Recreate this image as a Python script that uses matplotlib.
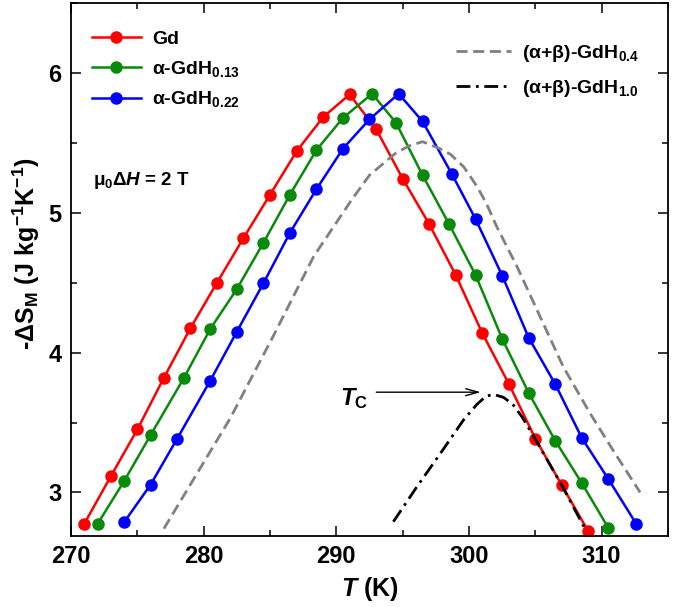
import matplotlib
matplotlib.use("Agg")
import matplotlib.pyplot as plt

plt.rcParams['font.family'] = ['Liberation Sans', 'DejaVu Sans']
plt.rcParams['font.weight'] = 'bold'
plt.rcParams['mathtext.fontset'] = 'custom'
plt.rcParams['mathtext.rm'] = 'Liberation Sans'
plt.rcParams['mathtext.bf'] = 'Liberation Sans:bold'
plt.rcParams['mathtext.it'] = 'Liberation Sans:italic:bold'

# ---- data ----
T_gd = [271, 273, 275, 277, 279, 281, 283, 285, 287, 289, 291, 293, 295, 297, 299, 301, 303, 305, 307, 309]
S_gd = [2.775, 3.115, 3.45, 3.82, 4.175, 4.50, 4.82, 5.13, 5.44, 5.685, 5.848, 5.60, 5.245, 4.92, 4.555,
        4.14, 3.777, 3.385, 3.05, 2.72]

T_h013 = [272, 274, 276, 278.5, 280.5, 282.5, 284.5, 286.5, 288.5, 290.5, 292.7, 294.5, 296.5, 298.5, 300.5,
          302.5, 304.5, 306.5, 308.5, 310.5]
S_h013 = [2.774, 3.08, 3.41, 3.817, 4.17, 4.455, 4.786, 5.13, 5.45, 5.68, 5.853, 5.645, 5.27, 4.92, 4.555,
          4.10, 3.712, 3.37, 3.067, 2.746]

T_h022 = [274, 276, 278, 280.5, 282.5, 284.5, 286.5, 288.5, 290.5, 292.5, 294.7, 296.5, 298.7, 300.5, 302.5,
          304.5, 306.5, 308.5, 310.5, 312.6]
S_h022 = [2.786, 3.055, 3.384, 3.80, 4.15, 4.496, 4.857, 5.17, 5.46, 5.67, 5.853, 5.655, 5.28, 4.955, 4.552,
          4.107, 3.775, 3.39, 3.096, 2.776]

T_h04 = [277.0, 282.0, 285.2, 288.3, 291.2, 292.5, 293.5, 294.5, 295.5, 296.5, 297.8, 298.6, 299.6, 300.6,
         301.3, 302.1, 303.6, 305.3, 307.1, 309.1, 311.0, 312.9]
S_h04 = [2.74, 3.53, 4.11, 4.69, 5.10, 5.27, 5.35, 5.43, 5.48, 5.51, 5.46, 5.42, 5.33, 5.19,
         5.07, 4.90, 4.62, 4.27, 3.90, 3.57, 3.28, 3.00]

T_h10 = [294.3, 296.0, 298.0, 299.6, 300.6, 301.3, 301.9, 302.6, 303.3, 304.0, 305.0, 307.0, 308.8]
S_h10 = [2.79, 3.03, 3.30, 3.52, 3.63, 3.69, 3.70, 3.68, 3.63, 3.54, 3.38, 3.05, 2.73]

x_ticks = [270, 280, 290, 300, 310]
y_ticks = [3, 4, 5, 6]

labels = ['Gd', r'$\mathrm{\alpha}$-Gd$\mathbf{H_{0.13}}$', r'$\mathrm{\alpha}$-Gd$\mathbf{H_{0.22}}$']
labels2 = [r'$\mathrm{(\alpha{+}\beta)}$-Gd$\mathbf{H_{0.4}}$', r'$\mathrm{(\alpha{+}\beta)}$-Gd$\mathbf{H_{1.0}}$']

# ---- figure ----
fig = plt.figure(figsize=(6.75, 6.07), dpi=100)
ax = fig.add_axes([0.1052, 0.1175, 0.8844, 0.877])

red, green, blue = '#ff0000', '#0a8a0a', '#0000ff'
lw = 1.8
ms = 8
l1, = ax.plot(T_gd, S_gd, '-o', color=red, lw=lw, ms=ms, label=labels[0])
l2, = ax.plot(T_h013, S_h013, '-o', color=green, lw=lw, ms=ms, label=labels[1])
l3, = ax.plot(T_h022, S_h022, '-o', color=blue, lw=lw, ms=ms, label=labels[2])
l4, = ax.plot(T_h04, S_h04, color='#808080', lw=2.0, dashes=(4, 2), label=labels2[0])
l5, = ax.plot(T_h10, S_h10, color='black', lw=2.0, dashes=(5, 2, 1, 2), label=labels2[1])

ax.set_xlim(270, 315)
ax.set_ylim(2.69, 6.5)
ax.set_xticks(x_ticks)
ax.set_yticks(y_ticks)
ax.set_xticks([275, 285, 295, 305, 315], minor=True)
ax.set_yticks([3.5, 4.5, 5.5, 6.5], minor=True)
ax.tick_params(which='both', direction='in', top=True, right=True, width=1.1, labelsize=17, pad=7)
ax.tick_params(which='major', length=7)
ax.tick_params(which='minor', length=4)
for s in ax.spines.values():
    s.set_linewidth(1.3)
for t in ax.get_xticklabels() + ax.get_yticklabels():
    t.set_fontweight('bold')

ax.set_xlabel(r'$T$ (K)', fontsize=18, fontweight='bold', labelpad=5)
ax.set_ylabel(r'-ΔS$\mathbf{_M}$ (J kg$\mathbf{^{-1}}$K$\mathbf{^{-1}}$)', fontsize=18, fontweight='bold')
ax.yaxis.set_label_coords(-0.049, 0.53)

leg1 = ax.legend(handles=[l1, l2, l3], loc='upper left', bbox_to_anchor=(0.035, 0.949), frameon=False,
                 fontsize=14, handlelength=2.5, handletextpad=0.6, labelspacing=0.55, borderaxespad=0,
                 borderpad=0)
ax.add_artist(leg1)
ax.legend(handles=[l4, l5], loc='upper left', bbox_to_anchor=(0.645, 0.925), frameon=False,
          fontsize=14, handlelength=2.8, handletextpad=0.6, labelspacing=0.72, borderaxespad=0, borderpad=0)

ax.text(0.037, 0.668, r'$\mathrm{\mu}\mathbf{_0}$Δ$H$ = 2 T', transform=ax.transAxes, fontsize=13.5,
        fontweight='bold', va='center', ha='left')

ax.annotate('', xy=(301.1, 3.717), xytext=(292.8, 3.717),
            arrowprops=dict(arrowstyle='->,head_length=0.9,head_width=0.25', lw=1.0, color='black'))
ax.text(292.4, 3.67, r'$T\mathbf{_C}$', fontsize=17, ha='right', va='center')

fig.savefig('out.png', dpi=100)
